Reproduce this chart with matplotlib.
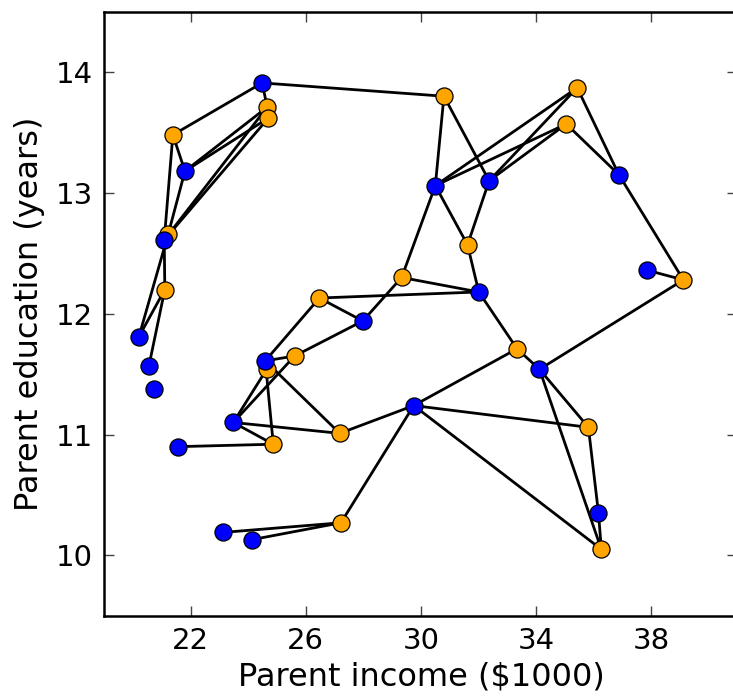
import numpy as np
import matplotlib
matplotlib.use("Agg")
import matplotlib.pyplot as plt

# blue group: parent income ($1000), parent education (years)
blue_x = [24.48, 21.80, 21.08, 20.20, 20.55, 20.72, 24.59, 23.48, 21.56, 23.11,
          24.12, 30.50, 32.37, 36.88, 37.86, 32.01, 27.98, 34.12, 29.75, 36.17]
blue_y = [13.91, 13.18, 12.61, 11.81, 11.57, 11.38, 11.61, 11.10, 10.90, 10.19,
          10.13, 13.06, 13.10, 13.15, 12.36, 12.18, 11.94, 11.54, 11.24, 10.35]

# orange group
orange_x = [24.66, 24.70, 21.38, 21.22, 21.10, 24.64, 25.61, 26.47, 24.87, 27.22,
            30.80, 35.43, 35.05, 31.62, 29.33, 39.12, 33.34, 35.82, 36.27, 27.18]
orange_y = [13.71, 13.62, 13.48, 12.66, 12.20, 11.54, 11.65, 12.13, 10.92, 10.27,
            13.80, 13.87, 13.57, 12.57, 12.30, 12.28, 11.71, 11.06, 10.05, 11.01]

# edges as (blue index, orange index)
edges = [(0, 10), (0, 2), (0, 0),
         (1, 2), (1, 0), (1, 1), (1, 3),
         (2, 2), (2, 0), (2, 1), (2, 4),
         (3, 3), (3, 4),
         (4, 4),
         (6, 7), (6, 6), (6, 8), (6, 19),
         (7, 5), (7, 6), (7, 8), (7, 19),
         (8, 8),
         (9, 9), (10, 9),
         (11, 10), (11, 14), (11, 13), (11, 11), (11, 12),
         (12, 10), (12, 13), (12, 11), (12, 12),
         (13, 11), (13, 12), (13, 15),
         (14, 15),
         (15, 7), (15, 14), (15, 13), (15, 16),
         (16, 6), (16, 7), (16, 14),
         (17, 15), (17, 16), (17, 17), (17, 18),
         (18, 16), (18, 19), (18, 9), (18, 17), (18, 18),
         (19, 17), (19, 18)]

fig = plt.figure(figsize=(7.33, 6.96), dpi=100)
ax = fig.add_axes([0.1424, 0.1152, 0.8637, 0.8681])

for b, o in edges:
    ax.plot([blue_x[b], orange_x[o]], [blue_y[b], orange_y[o]],
            color="black", lw=2.0, zorder=1)

ax.plot(orange_x, orange_y, "o", color="#ffa500", mec="black", mew=0.9,
        ms=12.3, zorder=2, linestyle="none")
ax.plot(blue_x, blue_y, "o", color="#0000ff", mec="black", mew=0.9,
        ms=12.3, zorder=3, linestyle="none")

ax.set_xlim(19, 41)
ax.set_ylim(9.5, 14.5)
ax.set_xticks([22, 26, 30, 34, 38])
ax.set_yticks([10, 11, 12, 13, 14])
ax.tick_params(direction="in", length=7, width=1, color="#444444",
               labelsize=21, top=True, right=True, pad=8)
for s in ax.spines.values():
    s.set_linewidth(1.8)

ax.set_xlabel("Parent income ($1000)", fontsize=23, labelpad=5)
ax.set_ylabel("Parent education (years)", fontsize=23, labelpad=8)

fig.savefig("out.png", dpi=100)
